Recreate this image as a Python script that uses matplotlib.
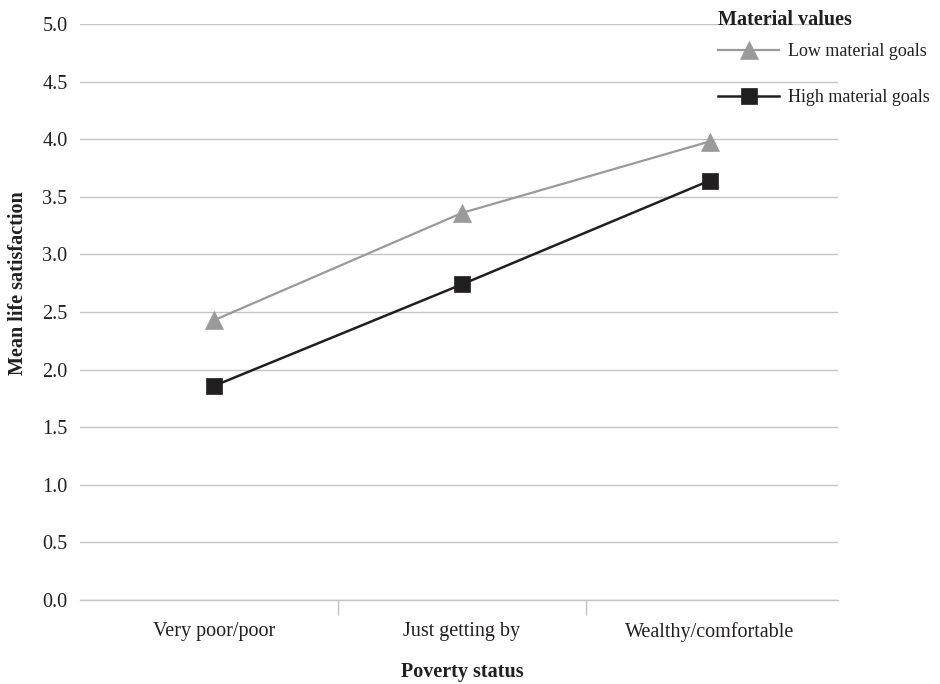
import matplotlib
matplotlib.use("Agg")
import matplotlib.pyplot as plt
from matplotlib.ticker import FixedLocator, NullFormatter

plt.rcParams['font.family'] = ['Liberation Serif', 'DejaVu Serif']

categories = ["Very poor/poor", "Just getting by", "Wealthy/comfortable"]
low_goals = [2.43, 3.36, 3.98]
high_goals = [1.86, 2.74, 3.64]
yticks = [0.0, 0.5, 1.0, 1.5, 2.0, 2.5, 3.0, 3.5, 4.0, 4.5, 5.0]

TXT = '#231f20'
GRID = '#c4c4c4'

fig = plt.figure(figsize=(9.4, 6.84), dpi=100)
ax = fig.add_axes([80/940, 84/684, 758/940, 576/684])

x = list(range(len(categories)))
ax.plot(x, low_goals, color='#9a9a9a', lw=1.6, marker='^', ms=13.5,
        markerfacecolor='#9a9a9a', markeredgecolor='#9a9a9a', markeredgewidth=0.5,
        label='Low material goals', zorder=3)
ax.plot(x, high_goals, color=TXT, lw=1.8, marker='s', ms=11,
        markerfacecolor=TXT, markeredgecolor=TXT, markeredgewidth=0.5,
        label='High material goals', zorder=3)

ax.set_xlim(-0.543, 2.519)
ax.set_ylim(0, 5)
ax.set_yticks(yticks)
ax.set_yticklabels([f"{v:.1f}" for v in yticks])
ax.set_xticks(x)
ax.set_xticklabels(categories)
ax.xaxis.set_minor_locator(FixedLocator([0.5, 1.5]))
ax.xaxis.set_minor_formatter(NullFormatter())
ax.tick_params(axis='x', which='major', length=0, pad=16, labelsize=14.5, colors=TXT)
ax.tick_params(axis='x', which='minor', length=11, width=1, color=GRID)
ax.tick_params(axis='y', length=0, pad=9, labelsize=14.5, colors=TXT)

ax.grid(axis='y', color=GRID, lw=1)
ax.set_axisbelow(True)
for s in ['left', 'right', 'top']:
    ax.spines[s].set_visible(False)
ax.spines['bottom'].set_color(GRID)
ax.spines['bottom'].set_linewidth(1)

ax.set_ylabel("Mean life satisfaction", fontsize=14.5, fontweight='bold', color=TXT)
ax.yaxis.set_label_coords(-0.068, 0.55)
ax.set_xlabel("Poverty status", fontsize=14.5, fontweight='bold', color=TXT)
ax.xaxis.set_label_coords(0.505, -0.107)

fig.text(718/940, 1 - 20/684, 'Material values', fontsize=14.5, fontweight='bold',
         color=TXT, ha='left', va='center')
leg = fig.legend(loc='upper left', bbox_to_anchor=(718/940, 1 - 43/684),
                 bbox_transform=fig.transFigure, frameon=False,
                 fontsize=13, handlelength=3.4,
                 labelspacing=1.62, handletextpad=0.45, borderpad=0,
                 borderaxespad=0)
for t in leg.get_texts():
    t.set_color(TXT)

fig.savefig("out.png", dpi=100)
